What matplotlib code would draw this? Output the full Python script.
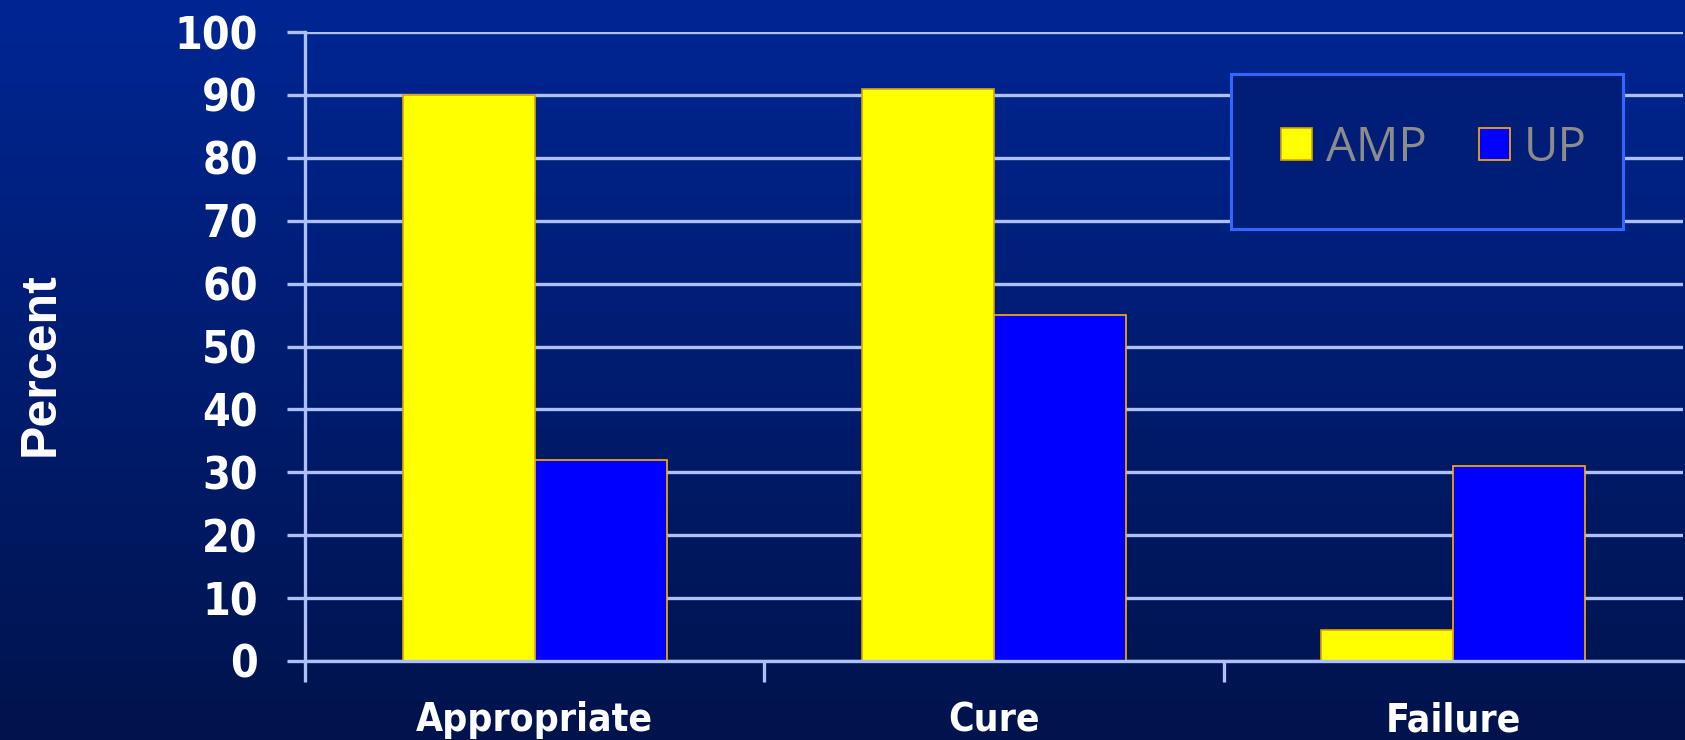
import numpy as np
import matplotlib
matplotlib.use("Agg")
import matplotlib.pyplot as plt
from matplotlib import font_manager
from matplotlib.patches import Rectangle, Patch

categories = ["Appropriate", "Cure", "Failure"]
series_names = ["AMP", "UP"]
amp_values = [90, 91, 5]
up_values = [32, 55, 31]
yticks = [0, 10, 20, 30, 40, 50, 60, 70, 80, 90, 100]

names = {f.name for f in font_manager.fontManager.ttflist}
narrow = "Liberation Sans Narrow" if "Liberation Sans Narrow" in names else "DejaVu Sans"
stretch = "normal" if narrow == "Liberation Sans Narrow" else "condensed"
ytick_size = 37 if narrow == "Liberation Sans Narrow" else 32
xtick_size = 36 if narrow == "Liberation Sans Narrow" else 28

fig = plt.figure(figsize=(16.85, 7.4), dpi=100)

# gradient background
bg = fig.add_axes([0, 0, 1, 1], zorder=-10)
top = np.array([0, 38, 148]) / 255
bot = np.array([0, 19, 76]) / 255
t = np.linspace(0, 1, 256)[:, None]
grad = top[None, :] * (1 - t) + bot[None, :] * t
bg.imshow(grad[:, None, :].repeat(2, axis=1), aspect="auto", extent=[0, 1, 0, 1])
bg.set_axis_off()

ax = fig.add_axes([305 / 1685, 1 - 661 / 740, 1378 / 1685, 629 / 740])
ax.patch.set_alpha(0)

grid_col = "#ADC0F7"
x = np.arange(len(categories))
w = 0.2875
ax.bar(x - w / 2, amp_values, w, color="#FFFF00", edgecolor="#D9A400", linewidth=1.2, zorder=3)
ax.bar(x + w / 2, up_values, w, color="#0000FF", edgecolor="#FFB000", linewidth=1.2, zorder=3)

ax.set_xlim(-0.5, 2.5)
ax.set_ylim(0, 100)
ax.set_yticks(yticks)
ax.yaxis.grid(True, color=grid_col, linewidth=2.4, zorder=1)
ax.set_axisbelow(True)
for s in ["top", "right"]:
    ax.spines[s].set_visible(False)
ax.spines["left"].set_color(grid_col)
ax.spines["left"].set_linewidth(2.4)
ax.spines["bottom"].set_color(grid_col)
ax.spines["bottom"].set_linewidth(2.4)
ax.spines["bottom"].set_zorder(4)

ax.tick_params(axis="y", length=13, width=2.4, color=grid_col, pad=21,
               labelcolor="white", labelsize=ytick_size)
for lab in ax.get_yticklabels():
    lab.set_family(narrow)
    lab.set_fontweight("bold")
    lab.set_fontstretch(stretch)

ax.set_xticks(x)
ax.set_xticklabels(categories)
ax.set_xticks([-0.5, 0.5, 1.5], minor=True)
ax.tick_params(axis="x", which="major", length=0, pad=29, labelcolor="white",
               labelsize=xtick_size)
ax.tick_params(axis="x", which="minor", length=15, width=2.4, color=grid_col)
for lab in ax.get_xticklabels():
    lab.set_family(narrow)
    lab.set_fontweight("bold")
    lab.set_fontstretch(stretch)

fig.text(41 / 1685, 1 - 364 / 740, "Percent", rotation=90, color="white",
         fontsize=36, fontweight="bold", family="Liberation Sans",
         ha="center", va="center")

# legend frame
ax.add_patch(Rectangle((926 / 1378, (661 - 229) / 629), 392 / 1378, 155 / 629,
                       transform=ax.transAxes, facecolor="#001E78",
                       edgecolor="#3366FF", linewidth=2.2, zorder=5, clip_on=False))
handles = [Patch(facecolor="#FFFF00", edgecolor="#D9A400", linewidth=1.2),
           Patch(facecolor="#0000FF", edgecolor="#FFB000", linewidth=1.2)]
leg = ax.legend(handles, series_names, ncol=2, frameon=False,
                loc="center", bbox_to_anchor=((1434 - 305) / 1378, (661 - 148) / 629),
                prop={"family": "Open Sans", "size": 34},
                handlelength=0.65, handleheight=0.65, handletextpad=0.3,
                columnspacing=1.1, labelcolor="#8C8C8C")
leg.set_zorder(6)

fig.savefig("out.png", dpi=100)
